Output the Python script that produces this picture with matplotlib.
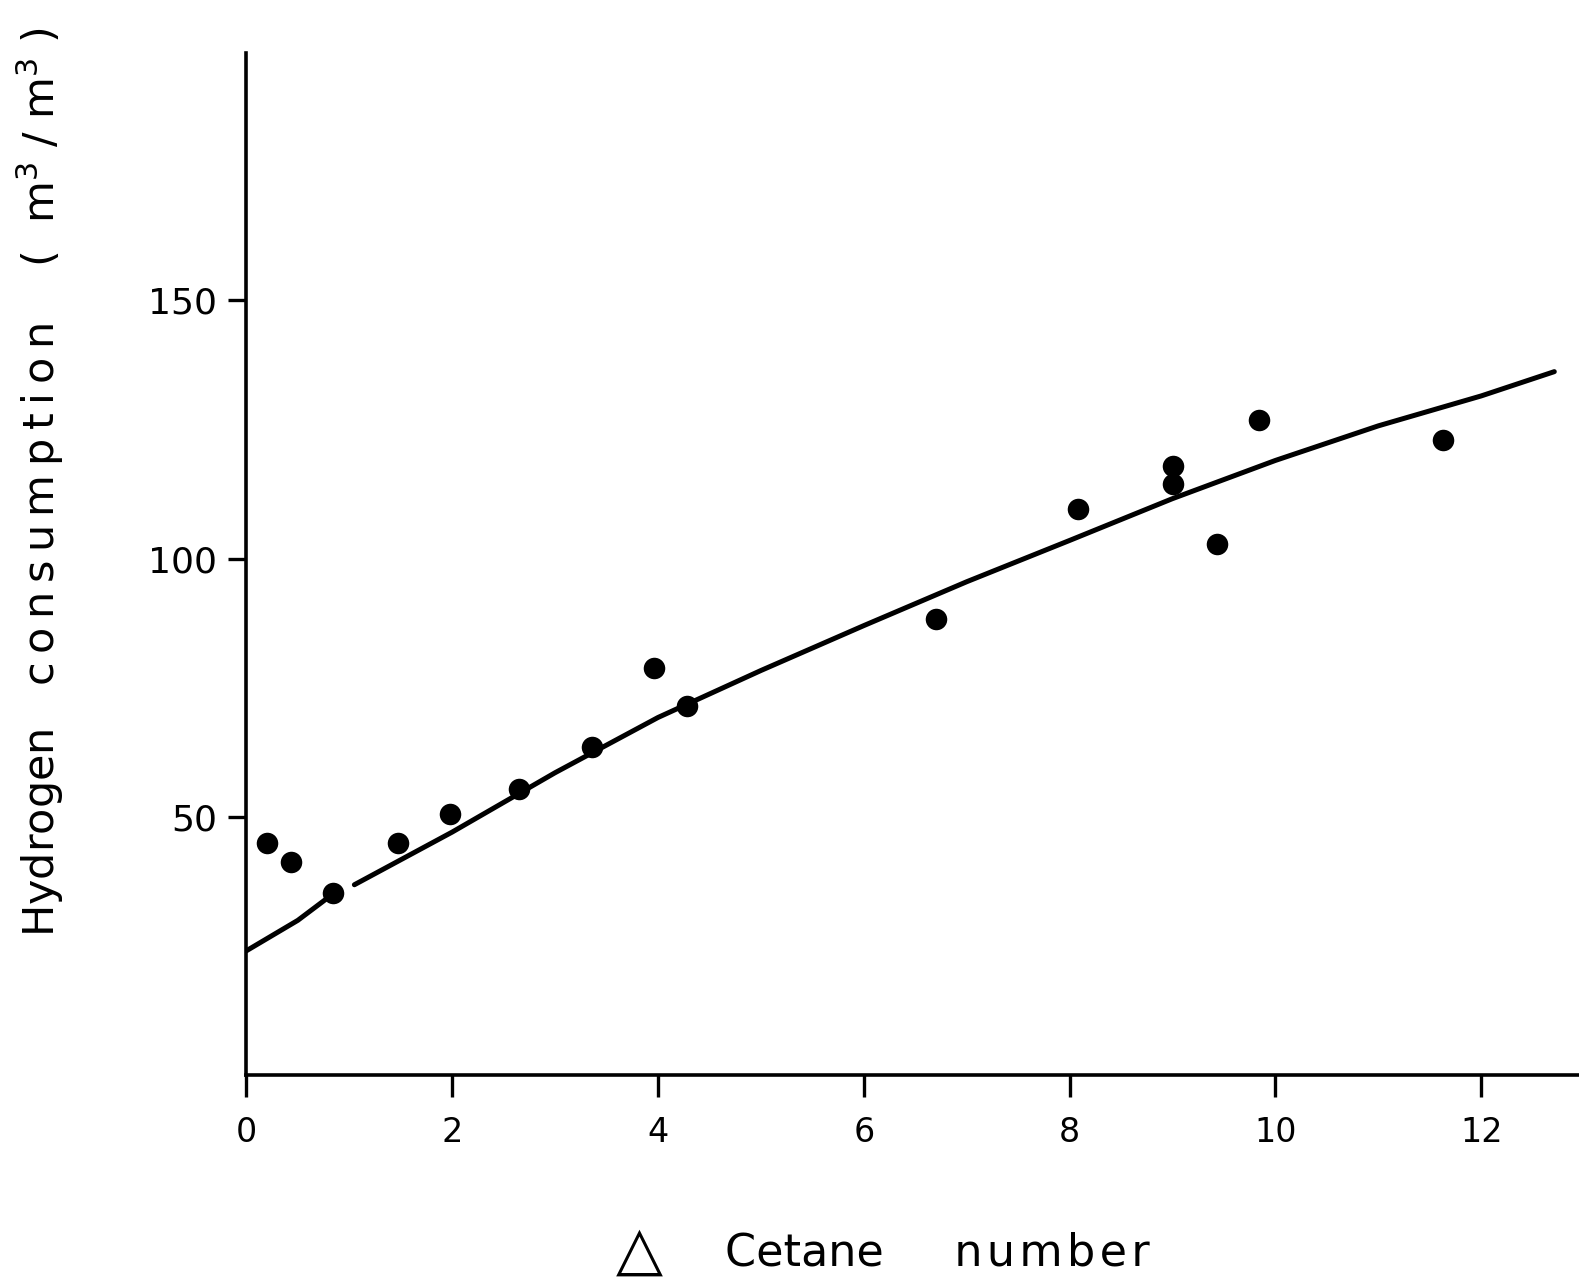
import numpy as np
import matplotlib.pyplot as plt

# measured points
delta_cetane = [0.20, 0.43, 0.84, 1.47, 1.98, 2.65, 3.36, 3.96, 4.28,
                6.70, 8.08, 9.0, 9.0, 9.43, 9.84, 11.63]
h2_consumption = [44.9, 41.2, 35.2, 44.9, 50.5, 55.4, 63.5, 78.7, 71.5,
                  88.2, 109.5, 118.0, 114.5, 102.9, 126.8, 122.9]

# fitted curve as drawn (hand-drawn, broken just after the dot near x=0.84)
fit_x1 = [0, 0.5, 0.84]
fit_y1 = [24, 29.9, 35.0]
fit_x2 = [1.05, 2, 3, 4, 5, 6, 7, 8, 9, 10, 11, 12, 12.71]
fit_y2 = [36.8, 47.0, 58.5, 69.2, 78.3, 87.0, 95.5, 103.5, 111.6,
          119.0, 125.7, 131.5, 136.2]

xticks = [0, 2, 4, 6, 8, 10, 12]
yticks = [50, 100, 150]

def spaced(word, sp):
    return sp.join(word)

fig = plt.figure(figsize=(15.79, 12.84), dpi=100)
ax = fig.add_axes([0.156, 0.163, 0.844, 0.796])

ax.plot(fit_x1, fit_y1, color="black", lw=3.6, solid_capstyle="round")
ax.plot(fit_x2, fit_y2, color="black", lw=3.6, solid_capstyle="round",
        solid_joinstyle="round")
ax.plot(delta_cetane, h2_consumption, "o", color="black", ms=15.5, mew=0)

ax.set_xlim(0, 12.95)
ax.set_ylim(0, 198)
for s in ("top", "right"):
    ax.spines[s].set_visible(False)
for s in ("left", "bottom"):
    ax.spines[s].set_linewidth(2.6)

ax.set_xticks(xticks)
ax.set_yticks(yticks)
ax.set_xticklabels([str(t) for t in xticks])
ax.set_yticklabels(["50", "100", "150"])
ax.tick_params(axis="x", direction="out", length=16, width=2.4, pad=14, labelsize=24)
ax.tick_params(axis="y", direction="out", length=13, width=2.4, pad=8, labelsize=26)

ylab = "Hydrogen   " + spaced("consumption", "\u2009") + "    (  m$^3$ / m$^3$ )"
ax.set_ylabel(ylab, fontsize=31)
ax.yaxis.set_label_coords(-0.135, 0.58)

# x label: big triangle + words
ax.text(0.295, -0.174, "△", transform=ax.transAxes, fontsize=44,
        ha="center", va="center")
ax.text(0.359, -0.174, "Cetane     " + spaced("number", "\u200a"),
        transform=ax.transAxes, fontsize=32, ha="left", va="center")

fig.savefig("out.png", dpi=100)
